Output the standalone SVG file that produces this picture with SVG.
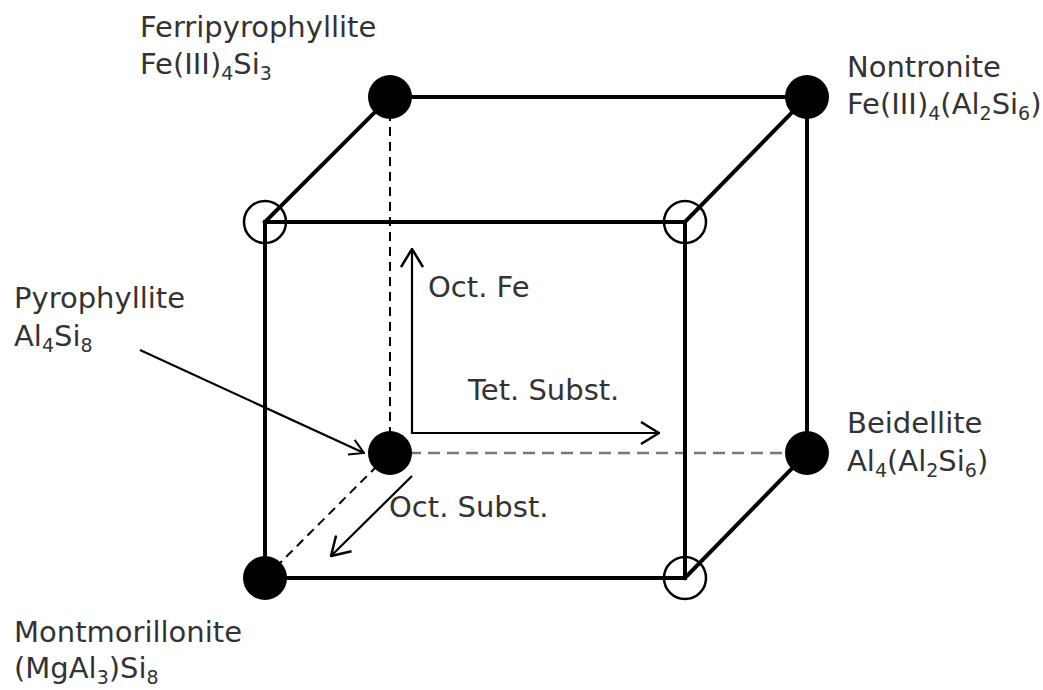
<svg xmlns="http://www.w3.org/2000/svg" width="1043" height="690" viewBox="0 0 1043 690">
<style>
.edge{stroke:#000;stroke-width:4;fill:none;stroke-linecap:square}
.dash{stroke:#000;stroke-width:2;fill:none;stroke-dasharray:9 6}
.dashg{stroke:#777;stroke-width:2.5;fill:none;stroke-dasharray:12 7}
.arr{stroke:#000;stroke-width:2.2;fill:none}
.full{fill:#000}
.open{fill:none;stroke:#000;stroke-width:2.5}
text{font-family:"DejaVu Sans","Liberation Sans",sans-serif;font-size:29px;fill:#333}
.sub{font-size:19px}
</style>
<defs>
<marker id="ah" viewBox="0 0 20 24" refX="19" refY="12" markerWidth="20" markerHeight="24" markerUnits="userSpaceOnUse" orient="auto">
<path d="M1,1 L19,12 L1,23" fill="none" stroke="#000" stroke-width="2.5"/>
</marker>
<marker id="ahs" viewBox="0 0 16 18" refX="15" refY="9" markerWidth="16" markerHeight="18" markerUnits="userSpaceOnUse" orient="auto">
<path d="M1,1 L15,9 L1,17" fill="none" stroke="#000" stroke-width="2"/>
</marker>
</defs>
<g id="connectors">
<line class="dash" x1="390" y1="97" x2="390" y2="453"/>
<line class="dashg" x1="390" y1="453" x2="807" y2="453"/>
<line class="dash" x1="265" y1="578" x2="390" y2="453" stroke="#555"/>
<line class="edge" x1="390" y1="97" x2="807" y2="97"/>
<line class="edge" x1="807" y1="97" x2="807" y2="453"/>
<line class="edge" x1="265" y1="222" x2="390" y2="97"/>
<line class="edge" x1="685" y1="222" x2="807" y2="97"/>
<line class="edge" x1="685" y1="578" x2="807" y2="453"/>
<rect class="edge" x="265" y="222" width="420" height="356"/>
<line class="arr" x1="412" y1="433" x2="412" y2="249" marker-end="url(#ah)"/>
<line class="arr" x1="411" y1="433" x2="659" y2="433" marker-end="url(#ah)"/>
<line class="arr" x1="412" y1="476" x2="331" y2="556" marker-end="url(#ah)"/>
<line class="arr" x1="140" y1="350" x2="364" y2="453" stroke-width="2" marker-end="url(#ahs)"/>
</g>
<g id="front-top-left"><circle class="open" cx="265" cy="222" r="21"/></g>
<g id="front-top-right"><circle class="open" cx="685" cy="222" r="21"/></g>
<g id="front-bottom-right"><circle class="open" cx="685" cy="578" r="21"/></g>
<g id="ferripyrophyllite">
<circle class="full" cx="390" cy="97" r="22"/>
<text x="140" y="37">Ferripyrophyllite</text>
<text x="140" y="74">Fe(III)<tspan class="sub" dy="6">4</tspan><tspan dy="-6">Si</tspan><tspan class="sub" dy="6">3</tspan></text>
</g>
<g id="nontronite">
<circle class="full" cx="807" cy="97" r="22"/>
<text x="847" y="77">Nontronite</text>
<text x="847" y="114">Fe(III)<tspan class="sub" dy="6">4</tspan><tspan dy="-6">(Al</tspan><tspan class="sub" dy="6">2</tspan><tspan dy="-6">Si</tspan><tspan class="sub" dy="6">6</tspan><tspan dy="-6">)</tspan></text>
</g>
<g id="pyrophyllite">
<circle class="full" cx="390" cy="453" r="22"/>
<text x="14" y="308">Pyrophyllite</text>
<text x="14" y="346">Al<tspan class="sub" dy="6">4</tspan><tspan dy="-6">Si</tspan><tspan class="sub" dy="6">8</tspan></text>
</g>
<g id="beidellite">
<circle class="full" cx="807" cy="453" r="22"/>
<text x="847" y="433">Beidellite</text>
<text x="847" y="471">Al<tspan class="sub" dy="6">4</tspan><tspan dy="-6">(Al</tspan><tspan class="sub" dy="6">2</tspan><tspan dy="-6">Si</tspan><tspan class="sub" dy="6">6</tspan><tspan dy="-6">)</tspan></text>
</g>
<g id="montmorillonite">
<circle class="full" cx="265" cy="578" r="22"/>
<text x="14" y="642">Montmorillonite</text>
<text x="14" y="678">(MgAl<tspan class="sub" dy="6">3</tspan><tspan dy="-6">)Si</tspan><tspan class="sub" dy="6">8</tspan></text>
</g>
<g id="axis-labels">
<text x="428" y="297">Oct. Fe</text>
<text x="468" y="400">Tet. Subst.</text>
<text x="389" y="517">Oct. Subst.</text>
</g>
</svg>
